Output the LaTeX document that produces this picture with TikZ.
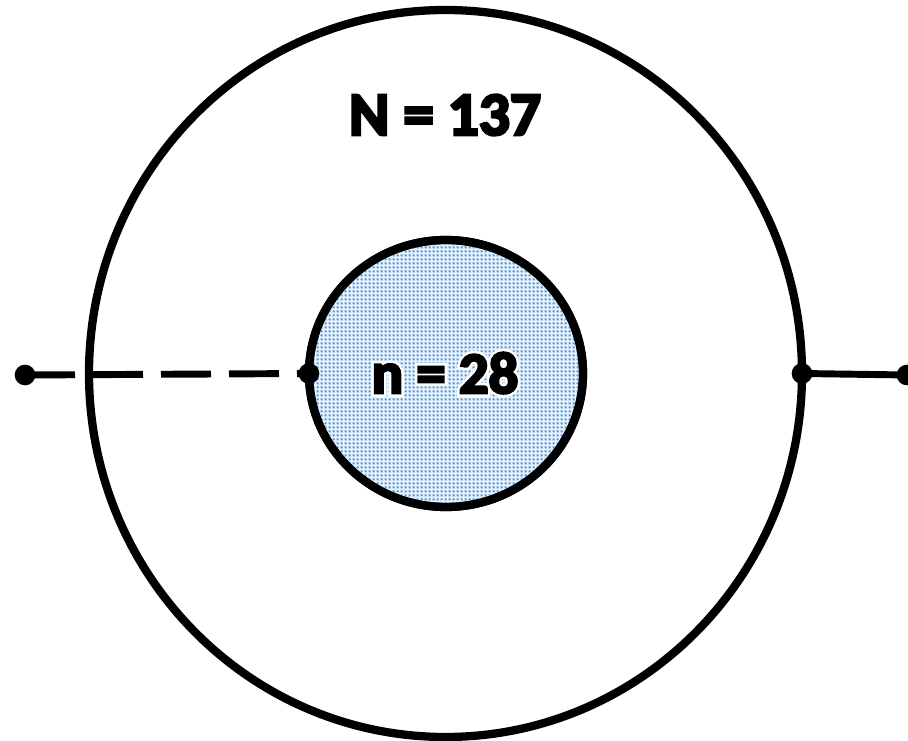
\documentclass[tikz,border=0pt]{standalone}
\usepackage{fontspec}
\setmainfont{Carlito}
\newfontfamily\heavyfont{Carlito Bold}[FakeBold=4.5]
\newfontfamily\halofont{Carlito Bold}[FakeBold=13]
\usetikzlibrary{shapes.geometric,patterns}
\definecolor{dotblue}{RGB}{80,145,210}
\pgfdeclarepatternformonly{bigdots}{\pgfqpoint{0pt}{0pt}}{\pgfqpoint{3pt}{3pt}}{\pgfqpoint{3pt}{3pt}}{%
  \pgfpathrectangle{\pgfqpoint{0.5pt}{0.5pt}}{\pgfqpoint{2pt}{2pt}}\pgfusepath{fill}}
\begin{document}
\begin{tikzpicture}[x=0.75pt,y=-0.75pt,
  ring/.style={draw=black,line width=6.2pt,ellipse,inner sep=0pt,outer sep=0pt},
  joint/.style={circle,fill=black,inner sep=0pt,minimum size=15.5pt},
  link/.style={line width=5.2pt},
  bigtext/.style={font=\fontsize{46}{50}\selectfont\heavyfont,inner sep=0pt}]
\useasboundingbox[fill=white] (0,0) rectangle (908,741);
\node[ring,minimum width=534.75pt,minimum height=545.25pt] (outer) at (445.5,373.5) {};
\node[ring,minimum width=205.5pt,minimum height=200.25pt,fill=dotblue!12] (innerbg) at (446,373.5) {};
\node[ring,minimum width=205.5pt,minimum height=200.25pt,pattern=bigdots,pattern color=dotblue] (inner) at (446,373.5) {};
\node[bigtext] (N) at (445,115) {N = 137};
\node[inner sep=0pt,text=white,font=\fontsize{44}{48}\selectfont\halofont] (nhalo) at (445,373) {n = 28};
\node[bigtext,font=\fontsize{44}{48}\selectfont\heavyfont] (n) at (445,373) {n = 28};
\coordinate (L) at (25,375);
\coordinate (R) at (907,375);
\draw[link,dash pattern=on 37.5pt off 13.5pt] (L) -- (inner.west);
\draw[link] (outer.east) -- (R);
\node[joint] (dL) at (L) {};
\node[joint] (dI) at (inner.west) {};
\node[joint] (dO) at (outer.east) {};
\node[joint] (dR) at (R) {};
\end{tikzpicture}
\end{document}
